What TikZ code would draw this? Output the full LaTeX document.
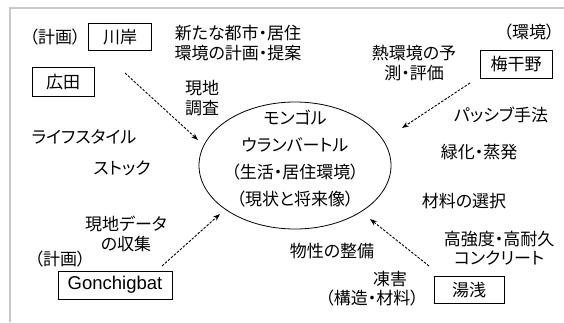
\documentclass[tikz,border=0pt]{standalone}
\usepackage{fontspec}
\setmainfont[RawFeature=+palt]{Noto Sans CJK JP}
\newfontfamily\latinfont{Liberation Sans}
\usetikzlibrary{arrows.meta,shapes.geometric}
\begin{document}
\begin{tikzpicture}[x=1pt,y=-1pt,
  lbl/.style={font=\fontsize{17}{20}\selectfont, inner sep=0pt, align=center},
  namebox/.style={draw, line width=0.8pt, font=\fontsize{17}{20}\selectfont, inner sep=0pt, align=center},
  dasharrow/.style={line width=0.9pt, dash pattern=on 2.5pt off 1.5pt, -{Stealth[length=7pt,width=5pt]}},
  frameline/.style={draw=black!22, line width=1.5pt}
]
\useasboundingbox (0,0) rectangle (564,322);
\draw[frameline] (10,322) -- (10,8) -- (564,8);

% left side
\node[lbl] (kei1) at (55,37) {（計画）};
\node[namebox, minimum width=63pt, minimum height=27pt] (kawagishi) at (120,37) {川岸};
\node[namebox, minimum width=62pt, minimum height=29pt] (hirota) at (63,82) {広田};
\node[lbl] (t1) at (238,43) {新たな都市・居住\\環境の計画・提案};
\node[lbl] (t2) at (202,98) {現地\\調査};
\node[lbl] (life) at (84,137) {ライフスタイル};
\node[lbl] (stock) at (122,168) {ストック};
\node[lbl] (t3) at (126,234) {現地データ\\の収集};
\node[lbl] (kei2) at (60,259) {（計画）};
\node[namebox, minimum width=114pt, minimum height=28pt, font=\latinfont\fontsize{18.5}{20}\selectfont] (gon) at (115,285) {Gonchigbat};

% centre
\node[draw, ellipse, line width=0.8pt, minimum width=192pt, minimum height=127pt, inner sep=0pt] (ell) at (295,165.5) {};
\node[lbl, font=\fontsize{17}{27}\selectfont] (elltext) at (295,158.5) {モンゴル\\ウランバートル\\（生活・居住環境）\\（現状と将来像）};

% right side
\node[lbl] (kankyo) at (529,32) {（環境）};
\node[namebox, minimum width=72pt, minimum height=28pt] (ume) at (516,64) {梅干野};
\node[lbl] (t4) at (414,63) {熱環境の予\\測・評価};
\node[lbl] (passive) at (501,115) {パッシブ手法};
\node[lbl] (ryokka) at (479,152) {緑化・蒸発};
\node[lbl] (zairyo) at (464,201) {材料の選択};
\node[lbl, font=\fontsize{17}{19}\selectfont] (t5) at (499,248.5) {高強度・高耐久\\コンクリート};
\node[lbl] (bussei) at (332,251) {物性の整備};
\node[lbl] (tougai) at (390,279) {凍害};
\node[lbl] (kouzou) at (372,298) {（構造・材料）};
\node[namebox, minimum width=70pt, minimum height=27pt] (yuasa) at (469,290) {湯浅};

% arrows
\coordinate (a1s) at (125,73);
\coordinate (a1e) at (198,140);
\coordinate (a2s) at (162,266);
\coordinate (a2e) at (220,214);
\coordinate (a3s) at (470,83);
\coordinate (a3e) at (402,128);
\coordinate (a4s) at (429,266);
\coordinate (a4e) at (370,219);
\draw[dasharrow] (a1s) -- (a1e);
\draw[dasharrow] (a2s) -- (a2e);
\draw[dasharrow] (a3s) -- (a3e);
\draw[dasharrow] (a4s) -- (a4e);
\end{tikzpicture}
\end{document}
